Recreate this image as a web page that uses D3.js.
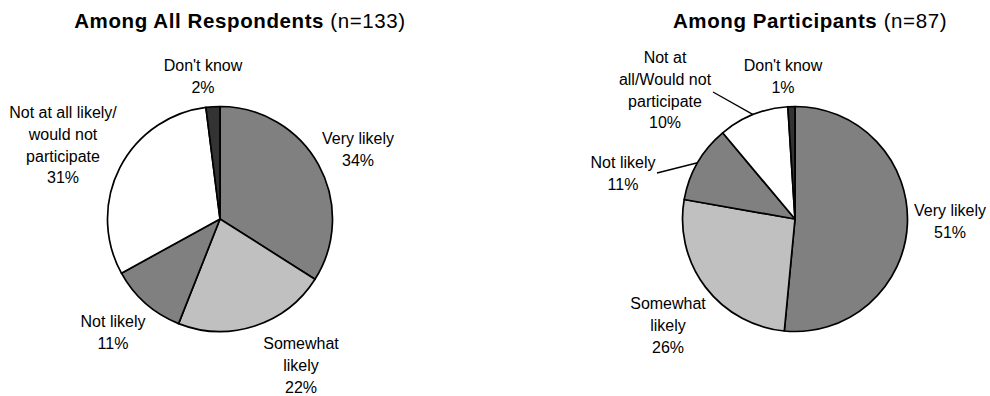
<!DOCTYPE html>
<html>
<head>
<meta charset="utf-8">
<script src="https://cdn.jsdelivr.net/npm/d3@7/dist/d3.min.js"></script>
<style>
  body { margin: 0; background: #fff; }
  text { font-family: "Liberation Sans", Arial, sans-serif; fill: #000; }
</style>
</head>
<body>
<svg id="chart" width="990" height="396"></svg>
<script>
// Likelihood of participating, shares in percent (clockwise from 12 o'clock)
const categories = ["Very likely", "Somewhat likely", "Not likely", "Not at all likely", "Don't know"];
const allRespondents = [34, 22, 11, 31, 2];
const participants = [51, 26, 11, 10, 1];

// Label wording per chart (percent line is appended from the values)
const labelsAll = [["Very likely"], ["Somewhat", "likely"], ["Not likely"],
                   ["Not at all likely/", "would not", "participate"], ["Don't know"]];
const labelsParticipants = [["Very likely"], ["Somewhat", "likely"], ["Not likely"],
                            ["Not at", "all/Would not", "participate"], ["Don't know"]];

const sliceFills = ["#808080", "#c0c0c0", "#808080", "#ffffff", "#333333"];

const svg = d3.select("#chart");
const radius = 112.5;
const lineH = 21.8;

// Layout of each chart: centre, title, label anchors (first baseline) and leader-line starts
const charts = [
  {
    values: allRespondents, labels: labelsAll,
    cx: 220, cy: 219,
    titleX: 240, titleBold: "Among All Respondents", titleRest: " (n=133)",
    labelPos: [[358, 144], [301, 349], [113, 327], [63, 118], [203, 71]],
    leaders: [null, null, null, null, null]
  },
  {
    values: participants, labels: labelsParticipants,
    cx: 795, cy: 219,
    titleX: 810, titleBold: "Among Participants", titleRest: " (n=87)",
    labelPos: [[950, 216], [668, 309], [623, 168], [665, 63], [783, 71]],
    leaders: [null, null, [657, 173], [713, 92], null]
  }
];

const pie = d3.pie().sort(null).value(d => d);
const arc = d3.arc().innerRadius(0).outerRadius(radius);

charts.forEach(c => {
  // title
  const t = svg.append("text")
    .attr("x", c.titleX).attr("y", 28)
    .attr("text-anchor", "middle")
    .style("font-size", "20.5px")
    .style("letter-spacing", "0.6px");
  t.append("tspan").style("font-weight", "bold").text(c.titleBold);
  t.append("tspan").text(c.titleRest);

  const g = svg.append("g").attr("transform", `translate(${c.cx},${c.cy})`);
  const arcs = pie(c.values);

  g.selectAll("path.slice")
    .data(arcs)
    .join("path")
    .attr("class", "slice")
    .attr("d", arc)
    .attr("fill", (d, i) => sliceFills[i])
    .attr("stroke", "#000")
    .attr("stroke-width", 1.7)
    .attr("stroke-linejoin", "round");

  // leader lines from label to the slice's outer edge at its mid-angle
  arcs.forEach((d, i) => {
    const start = c.leaders[i];
    if (!start) return;
    const a = (d.startAngle + d.endAngle) / 2;
    svg.append("line")
      .attr("x1", start[0]).attr("y1", start[1])
      .attr("x2", c.cx + radius * Math.sin(a))
      .attr("y2", c.cy - radius * Math.cos(a))
      .attr("stroke", "#000")
      .attr("stroke-width", 1.3);
  });

  // labels
  arcs.forEach((d, i) => {
    const [lx, ly] = c.labelPos[i];
    const lines = c.labels[i].concat([d.data + "%"]);
    const txt = svg.append("text")
      .attr("text-anchor", "middle")
      .style("font-size", "16px");
    lines.forEach((s, k) => {
      txt.append("tspan").attr("x", lx).attr("y", ly + k * lineH).text(s);
    });
  });
});
</script>
</body>
</html>
